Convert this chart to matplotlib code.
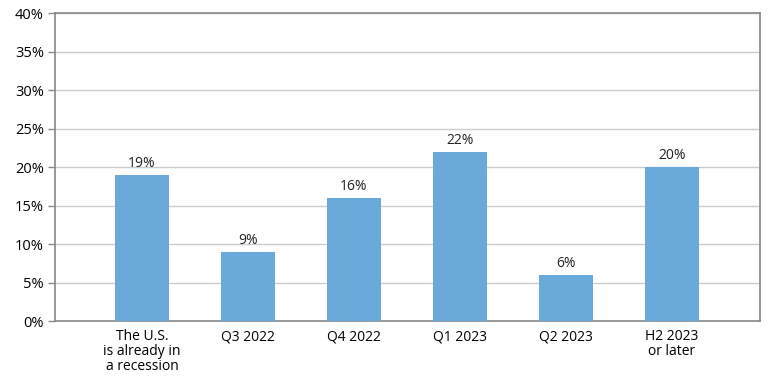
import matplotlib.pyplot as plt
import matplotlib.ticker as ticker

# Categories and values (%)
categories = ["The U.S.\nis already in\na recession", "Q3 2022", "Q4 2022",
              "Q1 2023", "Q2 2023", "H2 2023\nor later"]
values = [19, 9, 16, 22, 6, 20]
y_ticks = [0, 5, 10, 15, 20, 25, 30, 35, 40]

plt.rcParams['font.family'] = ['Open Sans', 'DejaVu Sans']

fig = plt.figure(figsize=(7.83, 3.85), dpi=100)
ax = fig.add_axes([0.0702, 0.166, 0.9004, 0.800])

x = range(len(categories))
bars = ax.bar(x, values, width=0.51, color='#6aaadb', zorder=3)

for b, v in zip(bars, values):
    ax.text(b.get_x() + b.get_width() / 2, v + 0.5, f"{v}%",
            ha='center', va='bottom', fontsize=10, color='#222222')

ax.set_xlim(-0.82, 5.83)
ax.set_ylim(0, 40)
ax.set_yticks(y_ticks)
ax.yaxis.set_major_formatter(ticker.FuncFormatter(lambda v, p: f"{v:.0f}%"))
ax.set_xticks(list(x))
ax.set_xticklabels(categories, fontsize=10, linespacing=1.0)

ax.tick_params(axis='y', labelsize=10.5, length=5, color='#888888', width=1, pad=3)
ax.tick_params(axis='x', length=0, pad=6)

# Grid
ax.grid(axis='y', color='#cccccc', linewidth=1, zorder=0)

for s in ax.spines.values():
    s.set_color('#888888')
    s.set_linewidth(1.2)

fig.savefig("out.png", dpi=100)
